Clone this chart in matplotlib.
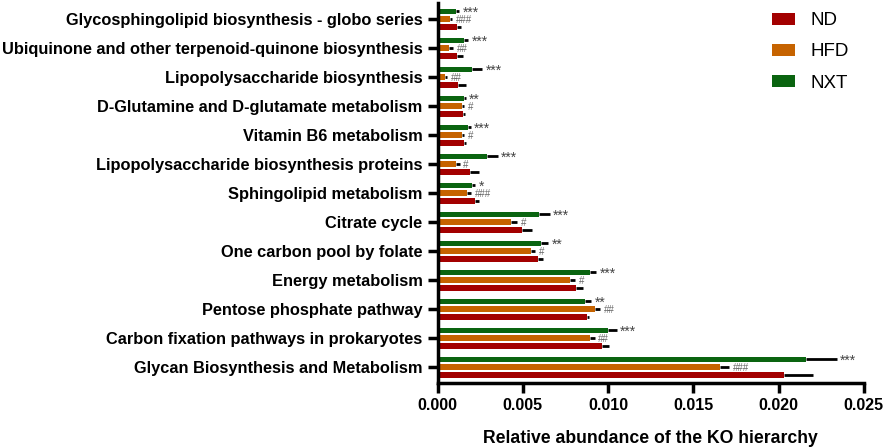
import numpy as np
import matplotlib.pyplot as plt

plt.rcParams["font.family"] = ["Liberation Sans", "DejaVu Sans"]

# top to bottom as drawn
pathways = [
    "Glycosphingolipid biosynthesis - globo series",
    "Ubiquinone and other terpenoid-quinone biosynthesis",
    "Lipopolysaccharide biosynthesis",
    "D-Glutamine and D-glutamate metabolism",
    "Vitamin B6 metabolism",
    "Lipopolysaccharide biosynthesis proteins",
    "Sphingolipid metabolism",
    "Citrate cycle",
    "One carbon pool by folate",
    "Energy metabolism",
    "Pentose phosphate pathway",
    "Carbon fixation pathways in prokaryotes",
    "Glycan Biosynthesis and Metabolism",
]

nd_mean = [0.00113, 0.00115, 0.00119, 0.00150, 0.00156, 0.00188, 0.00221,
           0.00495, 0.00589, 0.00814, 0.00873, 0.00964, 0.02029]
nd_err = [0.00022, 0.00033, 0.00049, 0.00010, 0.00012, 0.00055, 0.00020,
          0.00057, 0.00030, 0.00040, 0.00015, 0.00040, 0.00174]

hfd_mean = [0.00070, 0.00065, 0.00041, 0.00140, 0.00140, 0.00106, 0.00174,
            0.00428, 0.00550, 0.00775, 0.00925, 0.00896, 0.01655]
hfd_err = [0.00015, 0.00025, 0.00016, 0.00014, 0.00014, 0.00023, 0.00023,
           0.00040, 0.00020, 0.00030, 0.00030, 0.00025, 0.00055]

nxt_mean = [0.00110, 0.00153, 0.00203, 0.00155, 0.00178, 0.00290, 0.00201,
            0.00593, 0.00604, 0.00896, 0.00867, 0.00999, 0.02160]
nxt_err = [0.00015, 0.00025, 0.00057, 0.00010, 0.00016, 0.00063, 0.00020,
           0.00065, 0.00043, 0.00035, 0.00035, 0.00050, 0.00182]

nxt_marks = ["***", "***", "***", "**", "***", "***", "*",
             "***", "**", "***", "**", "***", "***"]
hfd_marks = ["###", "##", "##", "#", "#", "#", "###",
             "#", "#", "#", "##", "##", "###"]

colors = {"ND": "#a30000", "HFD": "#c66300", "NXT": "#0a6410"}

fig = plt.figure(figsize=(8.86, 4.48), dpi=100)
ax = fig.add_axes([0.494, 0.145, 0.481, 0.848])

n = len(pathways)
y = np.arange(n)[::-1].astype(float)
off = 0.27
h = 0.19

series = [
    ("ND", nd_mean, nd_err, -off),
    ("HFD", hfd_mean, hfd_err, 0.0),
    ("NXT", nxt_mean, nxt_err, off),
]
handles = []
for name, mean, err, dy in series:
    mean = np.array(mean)
    err = np.array(err)
    b = ax.barh(y + dy, mean, height=h, color=colors[name], label=name,
                xerr=[np.zeros(n), err],
                error_kw=dict(ecolor="black", elinewidth=2.0, capsize=0))
    handles.append(b)

# significance marks: stars vs HFD, hashes vs ND
for i in range(n):
    ax.text(nxt_mean[i] + nxt_err[i] + 0.0002, y[i] + off - 0.06,
            nxt_marks[i], va="center", ha="left", fontsize=10,
            color="#444444")
    ax.text(hfd_mean[i] + hfd_err[i] + 0.00022, y[i] - 0.03, hfd_marks[i],
            va="center", ha="left", fontsize=7, color="#666666")

ax.set_yticks(y)
ax.set_yticklabels(pathways, fontsize=11.8, fontweight="bold")
ax.set_ylim(-0.55, n - 1 + 0.55)
ax.set_xlim(0, 0.025)
ax.set_xticks([0, 0.005, 0.010, 0.015, 0.020, 0.025])
ax.set_xticklabels(["0.000", "0.005", "0.010", "0.015", "0.020", "0.025"],
                   fontsize=11.5, fontweight="bold")
ax.set_xlabel("Relative abundance of the KO hierarchy", fontsize=12.7,
              fontweight="bold", labelpad=12)

for side in ["top", "right"]:
    ax.spines[side].set_visible(False)
for side in ["left", "bottom"]:
    ax.spines[side].set_linewidth(2.5)
ax.tick_params(axis="both", width=2.5, length=7, pad=4)

ax.legend(handles=handles, labels=["ND", "HFD", "NXT"], loc="upper left",
          bbox_to_anchor=(0.745, 1.02), frameon=False, fontsize=13.5,
          handlelength=1.23, handleheight=0.59, labelspacing=0.75,
          handletextpad=0.8)

fig.savefig("out.png", dpi=100)
